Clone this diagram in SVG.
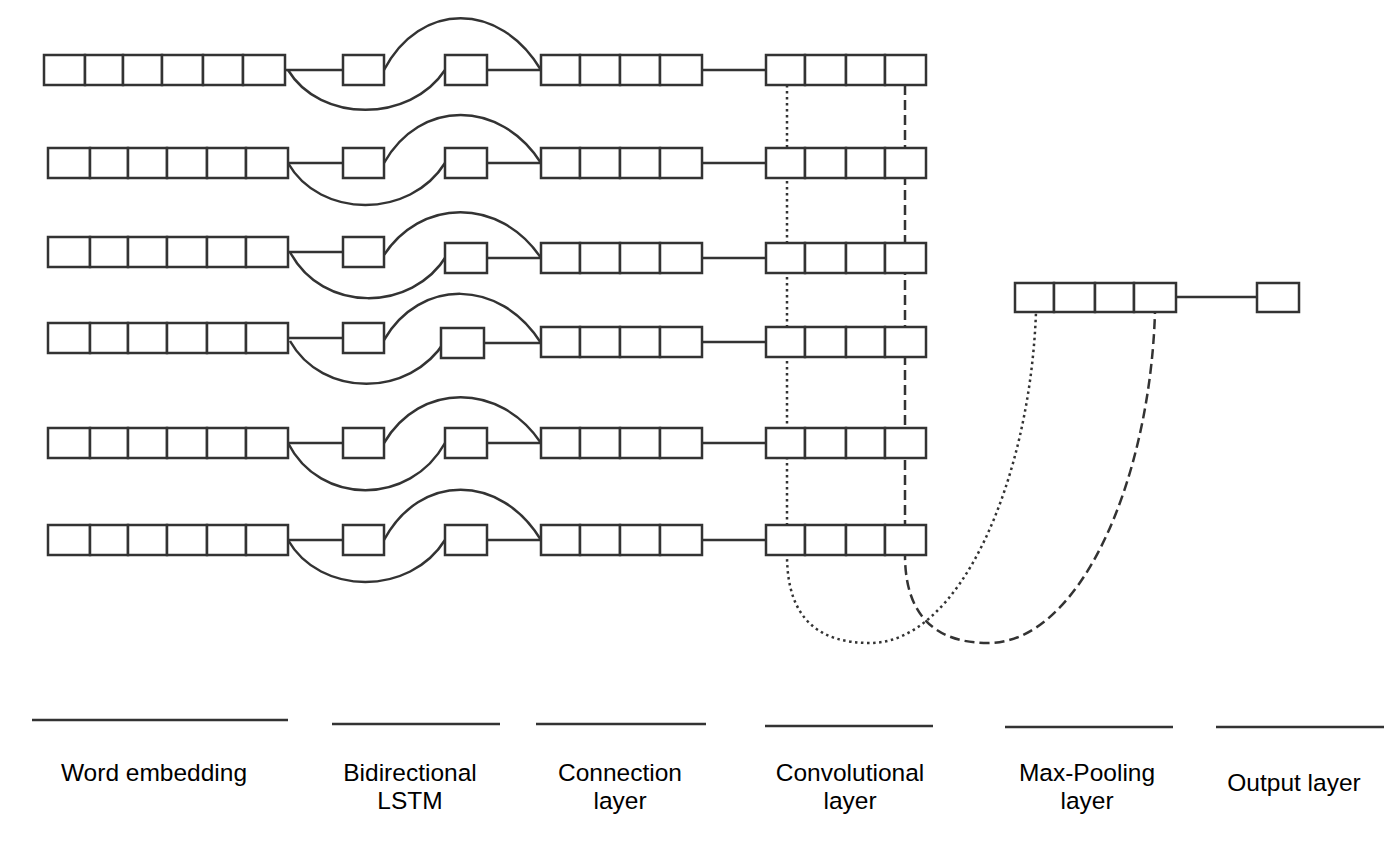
<svg xmlns="http://www.w3.org/2000/svg" width="1400" height="843" viewBox="0 0 1400 843">
<style>
.c{fill:#fff;stroke:#333;stroke-width:2.5}
.l{fill:none;stroke:#333;stroke-width:2.5}
.dot{fill:none;stroke:#333;stroke-width:2.5;stroke-dasharray:2.5 3.5}
.dash{fill:none;stroke:#333;stroke-width:2.5;stroke-dasharray:10 5}
.t{font-family:"Liberation Sans",Arial,sans-serif;font-size:24.5px;fill:#000;text-anchor:middle}
</style>
<rect width="1400" height="843" fill="#fff"/>
<g id="connectors">
<!-- row1 -->
<path class="l" d="M285,70 H343 M487,70 H541 M702,70 H766"/>
<path class="l" d="M384,70 C420,1 500,1 541,70"/>
<path class="l" d="M288,70 C320,123 410,123 445,70"/>
<!-- row2 -->
<path class="l" d="M288,163 H343 M487,163 H541 M702,163 H766"/>
<path class="l" d="M384,163 C420,99 500,99 541,163"/>
<path class="l" d="M288,163 C320,219 410,219 445,163"/>
<!-- row3 -->
<path class="l" d="M288,252 H343 M487,258 H541 M702,258 H766"/>
<path class="l" d="M382,258 C420,197 500,197 541,258"/>
<path class="l" d="M290,252 C322,313 412,313 447,255"/>
<!-- row4 -->
<path class="l" d="M288,338 H343 M484,343 H541 M702,342 H766"/>
<path class="l" d="M384,340 C420,278 500,278 541,343"/>
<path class="l" d="M290,341 C322,398 410,398 445,341"/>
<!-- row5 -->
<path class="l" d="M288,443 H343 M487,443 H541 M702,443 H766"/>
<path class="l" d="M384,443 C420,382 500,382 541,443"/>
<path class="l" d="M288,443 C320,506 410,506 445,443"/>
<!-- row6 -->
<path class="l" d="M288,540 H343 M487,540 H541 M702,540 H766"/>
<path class="l" d="M384,540 C420,473 500,473 541,540"/>
<path class="l" d="M288,540 C320,596 410,596 445,540"/>
<!-- pooling -->
<path class="dot" d="M787,85 V555 C787,620 820,643 870,643 C960,643 1030,480 1036,312"/>
<path class="dash" d="M905,85 V555 C905,620 940,643 988,643 C1080,643 1150,480 1155,312"/>
<path class="l" d="M1176,297 H1257"/>
</g>
<g id="row1">
<rect class="c" x="44" y="55" width="41" height="30"/><rect class="c" x="85" y="55" width="38" height="30"/><rect class="c" x="123" y="55" width="39" height="30"/><rect class="c" x="162" y="55" width="41" height="30"/><rect class="c" x="203" y="55" width="40" height="30"/><rect class="c" x="243" y="55" width="42" height="30"/>
<rect class="c" x="343" y="55" width="41" height="30"/><rect class="c" x="445" y="55" width="42" height="30"/>
<rect class="c" x="541" y="55" width="39" height="30"/><rect class="c" x="580" y="55" width="40" height="30"/><rect class="c" x="620" y="55" width="40" height="30"/><rect class="c" x="660" y="55" width="42" height="30"/>
<rect class="c" x="766" y="55" width="39" height="30"/><rect class="c" x="805" y="55" width="41" height="30"/><rect class="c" x="846" y="55" width="39" height="30"/><rect class="c" x="885" y="55" width="41" height="30"/>
</g>
<g id="row2">
<rect class="c" x="48" y="148" width="42" height="30"/><rect class="c" x="90" y="148" width="38" height="30"/><rect class="c" x="128" y="148" width="39" height="30"/><rect class="c" x="167" y="148" width="40" height="30"/><rect class="c" x="207" y="148" width="39" height="30"/><rect class="c" x="246" y="148" width="42" height="30"/>
<rect class="c" x="343" y="148" width="41" height="30"/><rect class="c" x="445" y="148" width="42" height="30"/>
<rect class="c" x="541" y="148" width="39" height="30"/><rect class="c" x="580" y="148" width="40" height="30"/><rect class="c" x="620" y="148" width="40" height="30"/><rect class="c" x="660" y="148" width="42" height="30"/>
<rect class="c" x="766" y="148" width="39" height="30"/><rect class="c" x="805" y="148" width="41" height="30"/><rect class="c" x="846" y="148" width="39" height="30"/><rect class="c" x="885" y="148" width="41" height="30"/>
</g>
<g id="row3">
<rect class="c" x="48" y="237" width="42" height="30"/><rect class="c" x="90" y="237" width="38" height="30"/><rect class="c" x="128" y="237" width="39" height="30"/><rect class="c" x="167" y="237" width="40" height="30"/><rect class="c" x="207" y="237" width="39" height="30"/><rect class="c" x="246" y="237" width="42" height="30"/>
<rect class="c" x="343" y="237" width="41" height="30"/><rect class="c" x="445" y="243" width="42" height="30"/>
<rect class="c" x="541" y="243" width="39" height="30"/><rect class="c" x="580" y="243" width="40" height="30"/><rect class="c" x="620" y="243" width="40" height="30"/><rect class="c" x="660" y="243" width="42" height="30"/>
<rect class="c" x="766" y="243" width="39" height="30"/><rect class="c" x="805" y="243" width="41" height="30"/><rect class="c" x="846" y="243" width="39" height="30"/><rect class="c" x="885" y="243" width="41" height="30"/>
</g>
<g id="row4">
<rect class="c" x="48" y="323" width="42" height="30"/><rect class="c" x="90" y="323" width="38" height="30"/><rect class="c" x="128" y="323" width="39" height="30"/><rect class="c" x="167" y="323" width="40" height="30"/><rect class="c" x="207" y="323" width="39" height="30"/><rect class="c" x="246" y="323" width="42" height="30"/>
<rect class="c" x="343" y="323" width="41" height="30"/><rect class="c" x="441" y="328" width="43" height="30"/>
<rect class="c" x="541" y="327" width="39" height="30"/><rect class="c" x="580" y="327" width="40" height="30"/><rect class="c" x="620" y="327" width="40" height="30"/><rect class="c" x="660" y="327" width="42" height="30"/>
<rect class="c" x="766" y="327" width="39" height="30"/><rect class="c" x="805" y="327" width="41" height="30"/><rect class="c" x="846" y="327" width="39" height="30"/><rect class="c" x="885" y="327" width="41" height="30"/>
</g>
<g id="row5">
<rect class="c" x="48" y="428" width="42" height="30"/><rect class="c" x="90" y="428" width="38" height="30"/><rect class="c" x="128" y="428" width="39" height="30"/><rect class="c" x="167" y="428" width="40" height="30"/><rect class="c" x="207" y="428" width="39" height="30"/><rect class="c" x="246" y="428" width="42" height="30"/>
<rect class="c" x="343" y="428" width="41" height="30"/><rect class="c" x="445" y="428" width="42" height="30"/>
<rect class="c" x="541" y="428" width="39" height="30"/><rect class="c" x="580" y="428" width="40" height="30"/><rect class="c" x="620" y="428" width="40" height="30"/><rect class="c" x="660" y="428" width="42" height="30"/>
<rect class="c" x="766" y="428" width="39" height="30"/><rect class="c" x="805" y="428" width="41" height="30"/><rect class="c" x="846" y="428" width="39" height="30"/><rect class="c" x="885" y="428" width="41" height="30"/>
</g>
<g id="row6">
<rect class="c" x="48" y="525" width="42" height="30"/><rect class="c" x="90" y="525" width="38" height="30"/><rect class="c" x="128" y="525" width="39" height="30"/><rect class="c" x="167" y="525" width="40" height="30"/><rect class="c" x="207" y="525" width="39" height="30"/><rect class="c" x="246" y="525" width="42" height="30"/>
<rect class="c" x="343" y="525" width="41" height="30"/><rect class="c" x="445" y="525" width="42" height="30"/>
<rect class="c" x="541" y="525" width="39" height="30"/><rect class="c" x="580" y="525" width="40" height="30"/><rect class="c" x="620" y="525" width="40" height="30"/><rect class="c" x="660" y="525" width="42" height="30"/>
<rect class="c" x="766" y="525" width="39" height="30"/><rect class="c" x="805" y="525" width="41" height="30"/><rect class="c" x="846" y="525" width="39" height="30"/><rect class="c" x="885" y="525" width="41" height="30"/>
</g>
<g id="maxpool">
<rect class="c" x="1015" y="283" width="39" height="29"/><rect class="c" x="1054" y="283" width="41" height="29"/><rect class="c" x="1095" y="283" width="39" height="29"/><rect class="c" x="1134" y="283" width="42" height="29"/>
</g>
<g id="output">
<rect class="c" x="1257" y="283" width="42" height="29"/>
</g>
<g id="legend">
<path class="l" d="M32,720 H288 M332,724 H500 M536,724 H706 M765,726 H933 M1005,727 H1173 M1216,727 H1384"/>
<text class="t" x="154" y="781">Word embedding</text>
<text class="t" x="410" y="781">Bidirectional</text>
<text class="t" x="410" y="809">LSTM</text>
<text class="t" x="620" y="781">Connection</text>
<text class="t" x="620" y="809">layer</text>
<text class="t" x="850" y="781">Convolutional</text>
<text class="t" x="850" y="809">layer</text>
<text class="t" x="1087" y="781">Max-Pooling</text>
<text class="t" x="1087" y="809">layer</text>
<text class="t" x="1294" y="791">Output layer</text>
</g>
</svg>
